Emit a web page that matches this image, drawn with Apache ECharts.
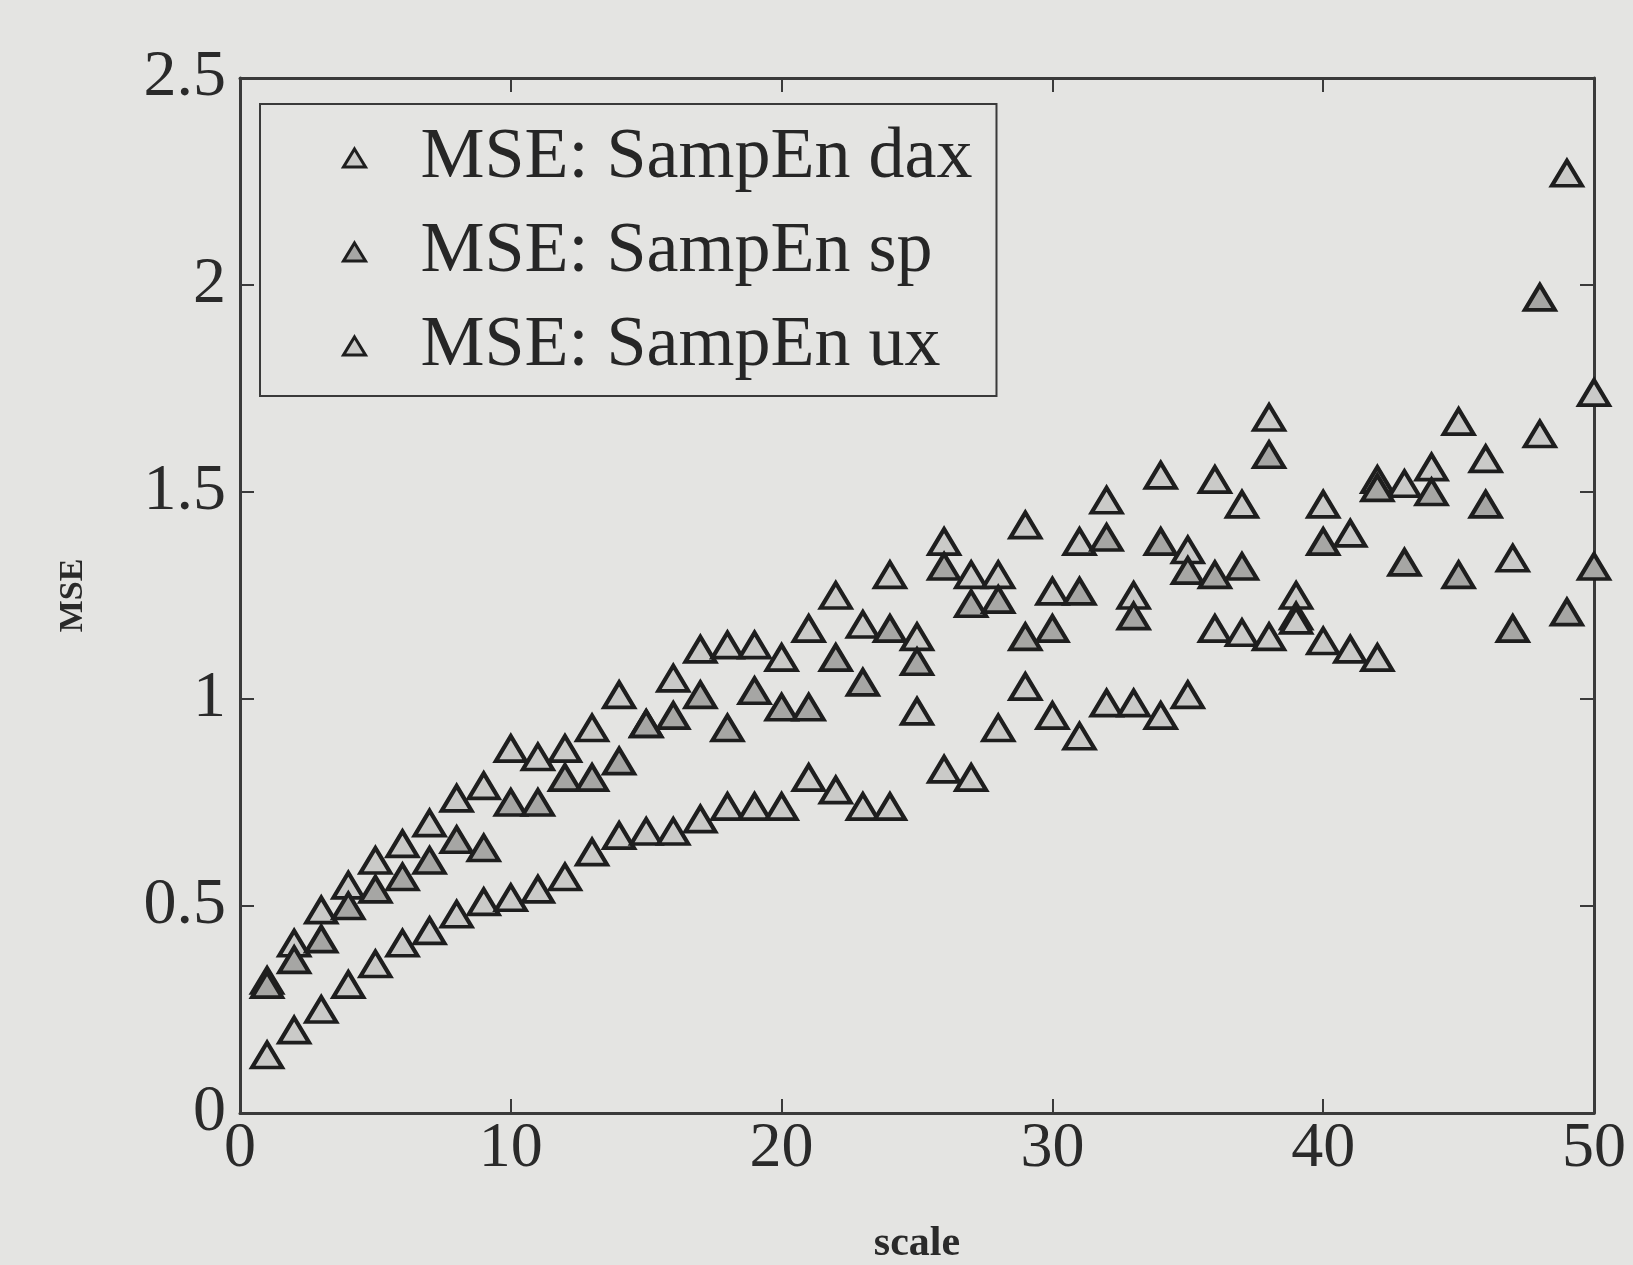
<!DOCTYPE html>
<html>
<head>
<meta charset="utf-8">
<script src="https://cdn.jsdelivr.net/npm/echarts@6/dist/echarts.min.js"></script>
<style>
html,body{margin:0;padding:0;background:#e4e4e2;}
#chart{width:1633px;height:1265px;}
</style>
</head>
<body>
<div id="chart"></div>
<script>
const scales = [1,2,3,4,5,6,7,8,9,10,11,12,13,14,15,16,17,18,19,20,21,22,23,24,25,26,27,28,29,30,31,32,33,34,35,36,37,38,39,40,41,42,43,44,45,46,47,48,49,50];
const daxValues = [0.32,0.41,0.49,0.55,0.61,0.65,0.70,0.76,0.79,0.88,0.86,0.88,0.93,1.01,0.94,1.05,1.12,1.13,1.13,1.10,1.17,1.25,1.18,1.30,1.15,1.38,1.30,1.30,1.42,1.26,1.38,1.48,1.25,1.54,1.36,1.53,1.47,1.68,1.25,1.47,1.40,1.53,1.52,1.56,1.67,1.58,1.34,1.64,2.27,1.74];
const spValues = [0.31,0.37,0.42,0.50,0.54,0.57,0.61,0.66,0.64,0.75,0.75,0.81,0.81,0.85,0.94,0.96,1.01,0.93,1.02,0.98,0.98,1.10,1.04,1.17,1.09,1.32,1.23,1.24,1.15,1.17,1.26,1.39,1.20,1.38,1.31,1.30,1.32,1.59,1.20,1.38,null,1.51,1.33,1.50,1.30,1.47,1.17,1.97,1.21,1.32];
const uxValues = [0.14,0.20,0.25,0.31,0.36,0.41,0.44,0.48,0.51,0.52,0.54,0.57,0.63,0.67,0.68,0.68,0.71,0.74,0.74,0.74,0.81,0.78,0.74,0.74,0.97,0.83,0.81,0.93,1.03,0.96,0.91,0.99,0.99,0.96,1.01,1.17,1.16,1.15,1.19,1.14,1.12,1.10];
const seriesNames = ['MSE: SampEn dax','MSE: SampEn sp','MSE: SampEn ux'];
const xTicks = [0,10,20,30,40,50];
const yTicks = [0,0.5,1,1.5,2,2.5];

function pairs(vals){
  const out=[];
  vals.forEach((v,i)=>{ if(v!==null) out.push([scales[i], v]); });
  return out;
}

const chart = echarts.init(document.getElementById('chart'));
const font = '"Liberation Serif","DejaVu Serif",serif';
const axisCol = '#3a3a3a';
const fills = ['#cacac8','#a6a6a4','#cacac8'];
const allVals = [daxValues, spValues, uxValues];

const series = seriesNames.map((n,k)=>({
  name:n, type:'scatter', symbol:'triangle', symbolSize:[30,25],
  itemStyle:{color:fills[k], borderColor:'#1e1e1e', borderWidth:4, opacity:1},
  data:pairs(allVals[k])
}));

const tick = {show:true, inside:true, length:14, lineStyle:{color:axisCol,width:2}};
const line = {show:true, onZero:false, lineStyle:{color:axisCol,width:3}};

chart.setOption({
  backgroundColor:'#e4e4e2',
  animation:false,
  grid:{left:240,right:39,top:78,bottom:152,containLabel:false,outerBoundsMode:'none'},
  legend:{
    orient:'vertical', left:260, top:104,
    backgroundColor:'#e4e4e2',
    borderColor:'#3a3a3a', borderWidth:2,
    padding:[18,24,14,82],
    itemGap:22, itemWidth:22, itemHeight:18,
    icon:'triangle',
    textStyle:{fontFamily:font, fontSize:72, color:'#262626', padding:[0,0,0,50], lineHeight:72},
    data:seriesNames.map((n,k)=>({name:n, itemStyle:{color:fills[k], borderColor:'#1e1e1e', borderWidth:3}}))
  },
  xAxis:[{
    type:'value', min:0, max:50, interval:10,
    name:'scale', nameLocation:'middle', nameGap:110,
    nameTextStyle:{fontFamily:font, fontSize:42, fontWeight:'bold', color:'#2a2a2a'},
    axisLine:line, axisTick:tick,
    axisLabel:{fontFamily:font, fontSize:64, color:'#2a2a2a', margin:4,
      formatter:v=>xTicks.includes(v)?String(v):''},
    splitLine:{show:false}
  },{
    type:'value', min:0, max:50, interval:10, position:'top',
    axisLine:line, axisTick:tick,
    axisLabel:{show:false}, splitLine:{show:false}
  }],
  yAxis:[{
    type:'value', min:0, max:2.5, interval:0.5,
    name:'MSE', nameLocation:'middle', nameGap:150, nameRotate:90,
    nameTextStyle:{fontFamily:font, fontSize:34, fontWeight:'bold', color:'#2a2a2a'},
    axisLine:line, axisTick:tick,
    axisLabel:{fontFamily:font, fontSize:66, color:'#2a2a2a', margin:14,
      formatter:v=>yTicks.includes(v)?String(v):''},
    splitLine:{show:false}
  },{
    type:'value', min:0, max:2.5, interval:0.5, position:'right',
    axisLine:line, axisTick:tick,
    axisLabel:{show:false}, splitLine:{show:false}
  }],
  series:series
});
</script>
</body>
</html>
